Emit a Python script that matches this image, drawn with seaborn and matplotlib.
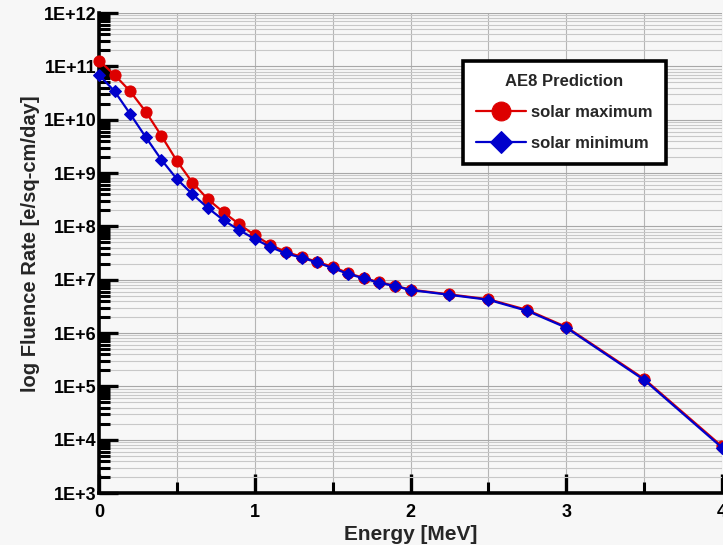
import matplotlib
matplotlib.use("Agg")
import matplotlib.pyplot as plt
import numpy as np
import pandas as pd
import seaborn as sns
from matplotlib.ticker import LogLocator, FuncFormatter, MultipleLocator

energy = [0.0, 0.1, 0.2, 0.3, 0.4, 0.5, 0.6, 0.7, 0.8, 0.9, 1.0, 1.1, 1.2, 1.3,
          1.4, 1.5, 1.6, 1.7, 1.8, 1.9, 2.0, 2.25, 2.5, 2.75, 3.0, 3.5, 4.0]
solar_max = [1.28e11, 6.9e10, 3.4e10, 1.41e10, 5.0e9, 1.68e9, 6.6e8, 3.2e8, 1.83e8,
             1.1e8, 6.8e7, 4.5e7, 3.3e7, 2.7e7, 2.15e7, 1.75e7, 1.32e7, 1.08e7,
             8.9e6, 7.7e6, 6.5e6, 5.3e6, 4.3e6, 2.7e6, 1.3e6, 1.38e5, 7.5e3]
solar_min = [6.9e10, 3.4e10, 1.28e10, 4.7e9, 1.78e9, 7.7e8, 4.0e8, 2.2e8, 1.3e8,
             8.5e7, 5.8e7, 4.1e7, 3.1e7, 2.6e7, 2.1e7, 1.65e7, 1.28e7, 1.06e7,
             8.7e6, 7.6e6, 6.4e6, 5.2e6, 4.2e6, 2.6e6, 1.26e6, 1.32e5, 7.1e3]

df = pd.DataFrame({"energy": energy, "max": solar_max, "min": solar_min})

sns.set_theme(style="white")
plt.rcParams["font.family"] = ["Liberation Sans", "DejaVu Sans"]
plt.rcParams["font.weight"] = "bold"

bg = "#f7f7f7"
fig = plt.figure(figsize=(7.23, 5.45), dpi=100, facecolor=bg)
ax = fig.add_axes([0.137, 0.0954, 0.8616, 0.8807])
ax.set_facecolor(bg)

red = "#dd0000"
blue = "#0000cc"
sns.lineplot(data=df, x="energy", y="max", ax=ax, color=red, lw=1.6,
             marker="o", markersize=8, markeredgecolor=red, label="solar maximum",
             clip_on=False, zorder=3)
sns.lineplot(data=df, x="energy", y="min", ax=ax, color=blue, lw=1.6,
             marker="D", markersize=6.5, markeredgecolor=blue, label="solar minimum",
             clip_on=False, zorder=3)

ax.set_yscale("log")
ax.set_ylim(1e3, 1e12)
ax.set_xlim(0, 4)

ax.yaxis.set_major_locator(LogLocator(base=10, numticks=20))
ax.yaxis.set_minor_locator(LogLocator(base=10, subs=np.arange(2, 10), numticks=20))
ax.yaxis.set_major_formatter(FuncFormatter(lambda v, p: f"1E+{int(round(np.log10(v)))}"))
ax.xaxis.set_major_locator(MultipleLocator(1))
ax.xaxis.set_minor_locator(MultipleLocator(0.5))

ax.grid(which="major", axis="y", color="#a8a8a8", lw=0.8)
ax.grid(which="minor", axis="y", color="#c8c8c8", lw=0.8)
ax.grid(which="both", axis="x", color="#b5b5b5", lw=0.8)
ax.set_axisbelow(True)

ax.tick_params(which="both", left=True, bottom=True, top=False, right=False)
ax.tick_params(which="major", direction="in", length=14, width=2.4, colors="black",
               labelsize=13, pad=2)
ax.tick_params(which="minor", direction="in", length=8, width=2.2, colors="black")
ax.tick_params(axis="x", which="major", pad=8)
for lbl in ax.get_xticklabels() + ax.get_yticklabels():
    lbl.set_fontweight("bold")

for s in ["top", "right"]:
    ax.spines[s].set_visible(False)
for s in ["left", "bottom"]:
    ax.spines[s].set_linewidth(2.6)
    ax.spines[s].set_color("black")

ax.set_xlabel("Energy [MeV]", fontsize=15, fontweight="bold", labelpad=3)
ax.set_ylabel("log Fluence Rate [e/sq-cm/day]", fontsize=14.5, fontweight="bold", labelpad=2)
ax.yaxis.set_label_coords(-0.095, 0.52)

leg = ax.legend(title="AE8 Prediction", loc="upper left", bbox_to_anchor=(0.584, 0.9),
                frameon=True, fancybox=False, prop={"weight": "bold", "size": 12},
                title_fontproperties={"weight": "bold", "size": 12},
                markerscale=1.7, handlelength=3.0, borderpad=0.8, labelspacing=0.95,
                handletextpad=0.3, borderaxespad=0)
leg.get_frame().set_edgecolor("black")
leg.get_frame().set_linewidth(2.6)
leg.get_frame().set_facecolor("white")
leg.get_frame().set_alpha(1)
leg.set_zorder(5)

fig.savefig("out.png", dpi=100, facecolor=bg)
